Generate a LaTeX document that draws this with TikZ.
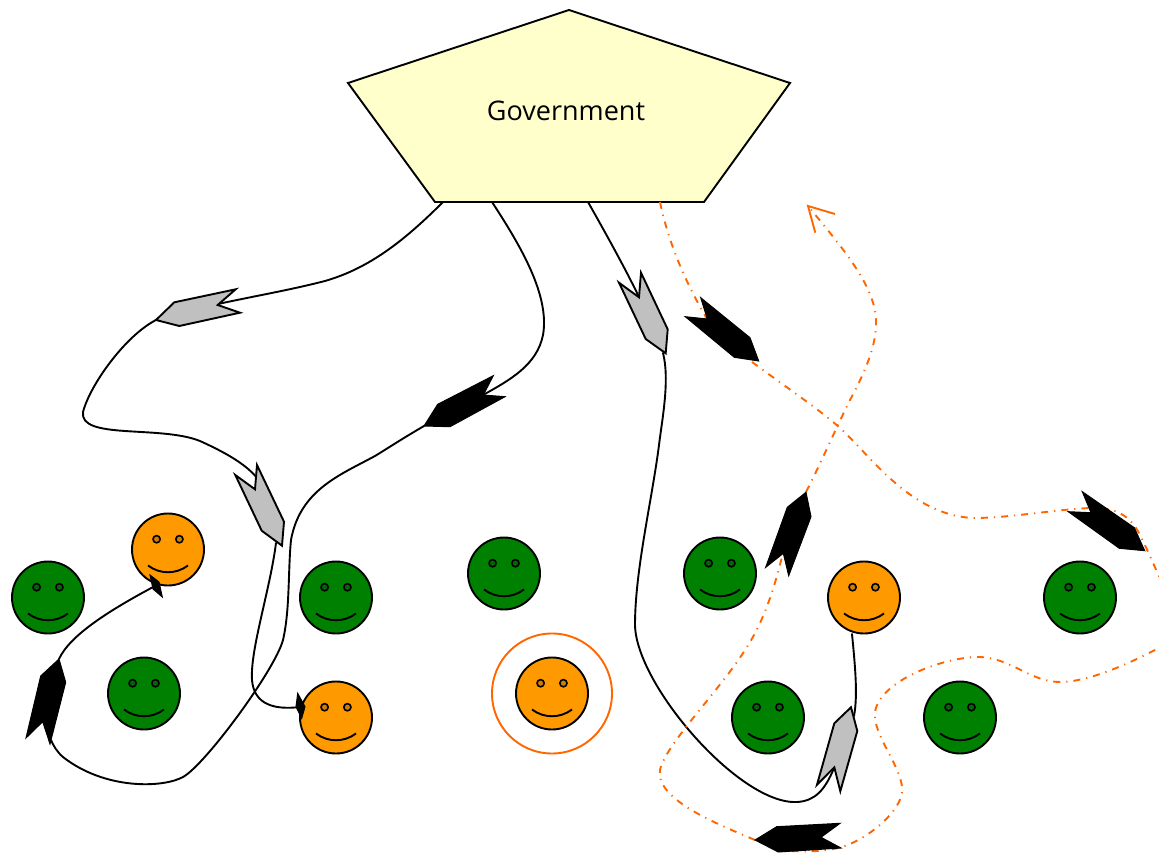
\documentclass[tikz,border=0pt]{standalone}
\usepackage{fontspec}
\setmainfont{Open Sans}
\definecolor{govfill}{HTML}{FFFFCC}
\definecolor{fgreen}{HTML}{008000}
\definecolor{forange}{HTML}{FF9900}
\definecolor{ored}{HTML}{FF6600}
\definecolor{headgrey}{HTML}{C0C0C0}
\tikzset{
  wire/.style={draw=black,line width=1.9pt,line cap=round},
  owire/.style={draw=ored,line width=1.9pt,dash pattern=on 7pt off 6pt on 1.2pt off 6pt},
  headg/.style={draw=black,fill=headgrey,line width=1.9pt,line join=miter},
  headk/.style={draw=black,fill=black,line width=1pt,line join=miter},
  facebody/.style={circle,draw=black,line width=1.9pt,minimum size=72pt,inner sep=0pt},
  gov/.style={draw=black,fill=govfill,line width=1.9pt,line join=miter}
}
\newcommand{\FaceAt}[4]{%
  \node[facebody,fill=#4] (#1) at (#2,#3) {};
  \begin{scope}[shift={(#2,#3)}]
    \draw[line width=1.6pt,fill=black!18!#4] (-11.4,-10.3) circle[radius=3.6pt];
    \draw[line width=1.6pt,fill=black!18!#4] (11.4,-10.3) circle[radius=3.6pt];
    \draw[line width=1.9pt] (-20,16) .. controls (-8,25) and (8,25) .. (20,16);
  \end{scope}}
\begin{document}
\begin{tikzpicture}[x=1pt,y=-1pt]
\clip (0,0) rectangle (1159,853);
% government
\coordinate (g1) at (569,10);
\coordinate (g2) at (790,83);
\coordinate (g3) at (704,202);
\coordinate (g4) at (435,202);
\coordinate (g5) at (348,83);
\draw[gov] (g1) -- (g2) -- (g3) -- (g4) -- (g5) -- cycle;
\node[font=\fontsize{27}{32}\selectfont,inner sep=0pt] (govlabel) at (566,111) {Government};
% faces
\FaceAt{f1}{48}{597.5}{fgreen}
\FaceAt{f2}{144}{693.5}{fgreen}
\FaceAt{f3}{336}{597.5}{fgreen}
\FaceAt{f4}{504}{573.5}{fgreen}
\FaceAt{f5}{720}{573.5}{fgreen}
\FaceAt{f6}{768}{717.5}{fgreen}
\FaceAt{f7}{960}{717.5}{fgreen}
\FaceAt{f8}{1080}{597.5}{fgreen}
\FaceAt{o1}{168}{549.5}{forange}
\FaceAt{o2}{336}{717.5}{forange}
\FaceAt{o3}{552}{693.5}{forange}
\FaceAt{o4}{864}{597.5}{forange}
\node[circle,draw=ored,line width=1.9pt,minimum size=120pt,inner sep=0pt] (ring) at (552,693.5) {};
% connector ends
\coordinate (s1) at (443,202);
\coordinate (s2) at (492,202);
\coordinate (s3) at (588,202);
\coordinate (s4) at (660,202);
\coordinate (a1n) at (218,304);
\coordinate (a1t) at (156,320);
\coordinate (a2n) at (257,478);
\coordinate (a2t) at (276,543);
\coordinate (a3n) at (300,707);
\coordinate (a4n) at (483,395);
\coordinate (a4t) at (424,426);
\coordinate (a5n) at (51,740);
\coordinate (a5t) at (59,659);
\coordinate (a6n) at (155,586);
\coordinate (a7n) at (639,297);
\coordinate (a7t) at (663,353);
\coordinate (a8n) at (834,768);
\coordinate (a9s) at (852,634);
\coordinate (a9n) at (854,716);
\coordinate (b1n) at (707,319);
\coordinate (b1t) at (752,362);
\coordinate (b2n) at (783,553);
\coordinate (b2t) at (806,492);
\coordinate (b3t) at (755,840);
\coordinate (b4e) at (780,851);
\coordinate (b5t) at (808,206);
% black connectors
\draw[wire] (s1) .. controls (405,240) and (370,268) .. (325,281) .. controls (290,290) and (255,296) .. (a1n);
\draw[wire] (a1t) .. controls (125,336) and (90,385) .. (83,412) .. controls (79,440) and (160,425) .. (200,441) .. controls (222,451) and (245,463) .. (a2n);
\draw[wire] (a2t) .. controls (270,590) and (250,650) .. (252,680) .. controls (254,705) and (275,710) .. (a3n);
\draw[wire] (s2) .. controls (520,245) and (550,295) .. (543,335) .. controls (537,365) and (510,380) .. (a4n);
\draw[wire] (a4t) .. controls (400,440) and (385,450) .. (375,456) .. controls (340,475) and (300,490) .. (291,540) .. controls (288,570) and (290,610) .. (283,640) .. controls (275,670) and (205,765) .. (183,777) .. controls (163,788) and (105,790) .. (63,757) .. controls (57,752) and (53,745) .. (a5n);
\draw[wire] (a5t) .. controls (70,635) and (110,610) .. (a6n);
\draw[wire] (s3) .. controls (605,232) and (625,268) .. (a7n);
\draw[wire] (a7t) .. controls (670,380) and (662,420) .. (659,445) .. controls (652,500) and (635,570) .. (635,625) .. controls (636,685) and (740,805) .. (797,802) .. controls (815,801) and (825,790) .. (a8n);
\draw[wire] (a9s) .. controls (855,665) and (858,695) .. (a9n);
% orange connectors
\draw[owire] (s4) .. controls (670,250) and (690,290) .. (b1n);
\draw[owire] (b1t) .. controls (790,390) and (820,410) .. (840,428) .. controls (870,455) and (910,515) .. (973,518) .. controls (1010,518) and (1050,510) .. (1090,508) .. controls (1115,507) and (1130,515) .. (1140,535) .. controls (1150,555) and (1160,580) .. (1175,610) .. controls (1185,625) and (1170,640) .. (1155,650) .. controls (1120,668) and (1085,682) .. (1060,682) .. controls (1030,682) and (1010,657) .. (978,657) .. controls (945,657) and (880,680) .. (875,712) .. controls (872,735) and (905,770) .. (902,793) .. controls (898,815) and (865,840) .. (842,847) .. controls (820,853) and (800,851) .. (b4e);
\draw[owire] (b3t) .. controls (720,825) and (655,800) .. (660,770) .. controls (665,745) and (720,690) .. (745,650) .. controls (765,620) and (775,585) .. (b2n);
\draw[owire] (b2t) .. controls (820,465) and (835,430) .. (850,400) .. controls (865,372) and (877,345) .. (876,320) .. controls (875,285) and (840,245) .. (b5t);
\draw[draw=ored,line width=1.9pt,line join=miter] (835,214) -- (b5t) -- (815.3,232.7);
% grey heads
\draw[headg] (a1t) -- (174.3,302.3) -- (235.7,289.3) -- (217.7,305) -- (240,312.7) -- (179.3,326) -- cycle;
\draw[headg] (282,545.7) -- (284,521.7) -- (257,465) -- (255,489.3) -- (235.3,475) -- (261.7,530.7) -- cycle;
\draw[headg] (665.7,353.3) -- (667.7,329.3) -- (641,272.7) -- (639,297.3) -- (619,282.7) -- (645.7,339) -- cycle;
\draw[headg] (851,707.3) -- (857.3,731) -- (840.3,791.3) -- (834.3,767.3) -- (817,784.7) -- (834.3,723.3) -- cycle;
% black heads
\draw[headk] (a4t) -- (437.7,404.3) -- (493.3,375.7) -- (483.3,395) -- (505,396.7) -- (450,426.7) -- cycle;
\draw[headk] (a5t) -- (65.7,682.3) -- (50,744) -- (42.7,721.7) -- (26,738) -- (40.7,676) -- cycle;
\draw[headk] (150,575) -- (159,582) -- (162.3,597) -- (153,589) -- cycle;
\draw[headk] (297.7,693.3) -- (305,706.7) -- (301.7,718.3) -- (296,706.7) -- cycle;
\draw[headk] (758.7,361) -- (750,337.7) -- (700.7,297.7) -- (707.3,319) -- (685.3,316.7) -- (734.3,357.3) -- cycle;
\draw[headk] (806,492.3) -- (811,516.7) -- (788.7,575.7) -- (783.3,553.3) -- (765.7,567.3) -- (787.3,507.3) -- cycle;
\draw[headk] (1082.3,491.7) -- (1091,512.7) -- (1068.3,511.7) -- (1119.3,548.3) -- (1144.7,550.7) -- (1134.3,527.7) -- cycle;
\draw[headk] (b3t) -- (776.7,826.7) -- (840,823.3) -- (821,837.3) -- (841,848) -- (778.3,852) -- cycle;
\end{tikzpicture}
\end{document}
